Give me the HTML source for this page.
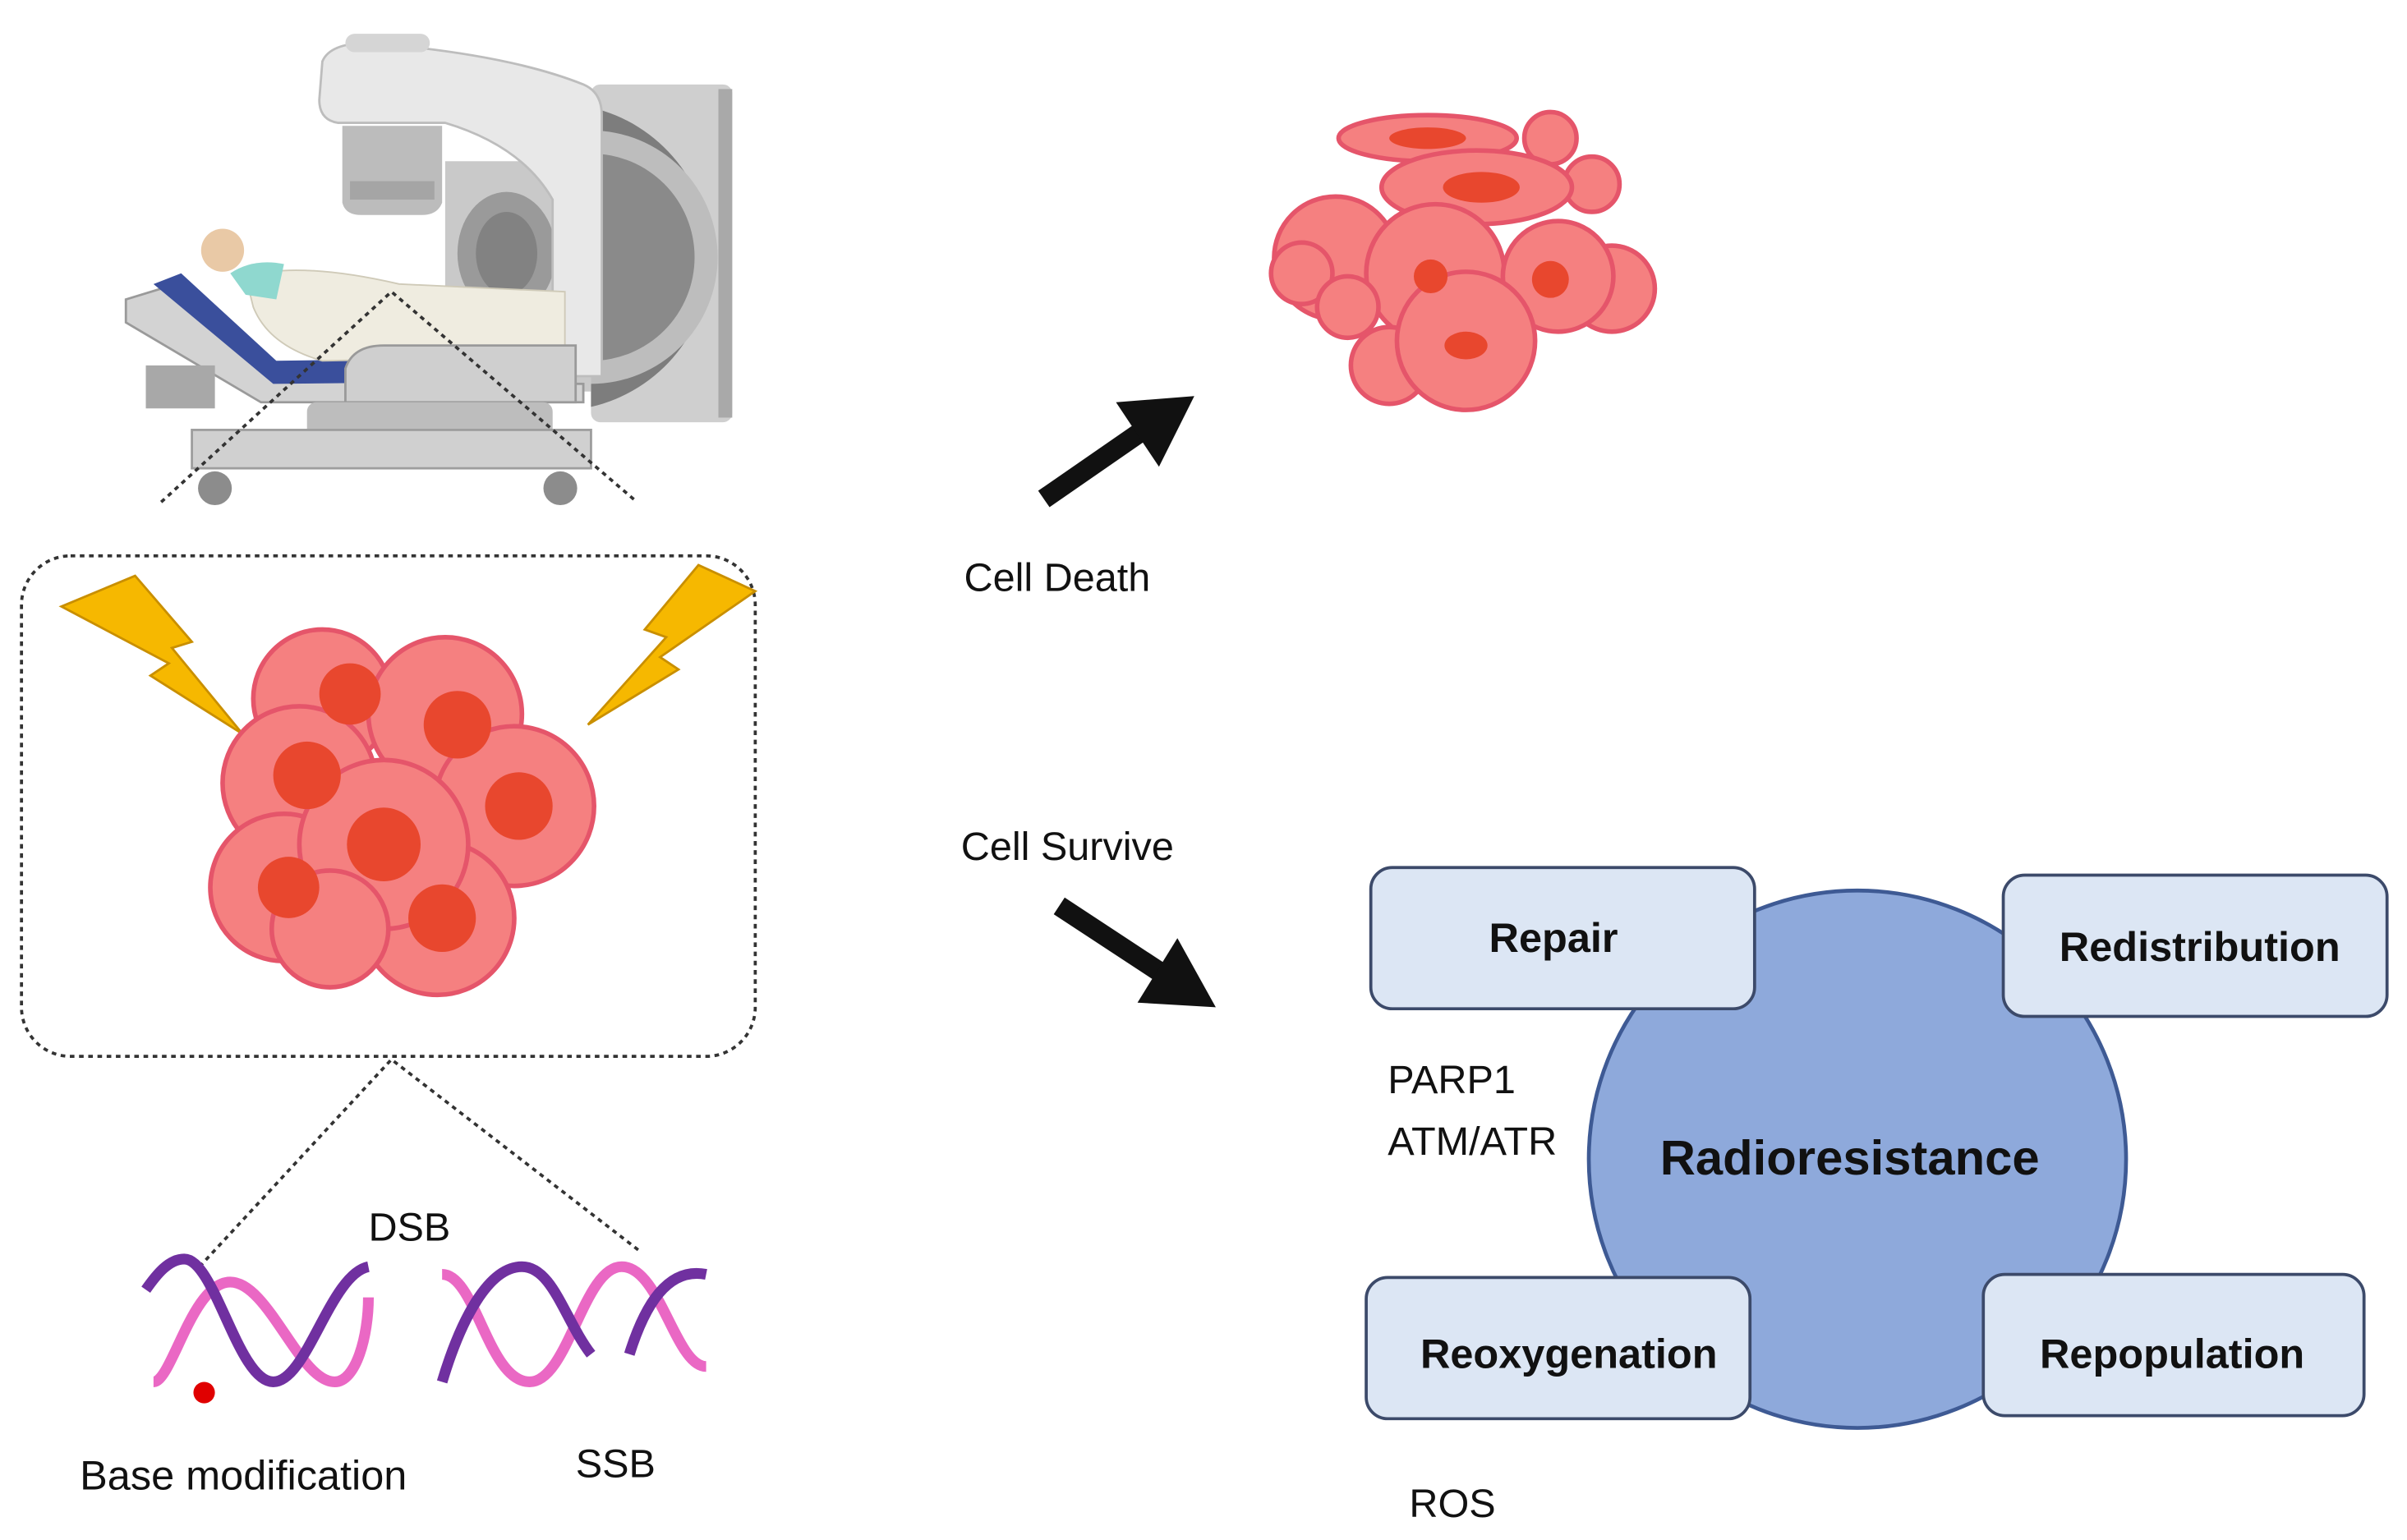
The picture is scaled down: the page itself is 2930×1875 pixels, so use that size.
<!DOCTYPE html>
<html><head><meta charset="utf-8"><style>
html,body{margin:0;padding:0;background:#fff;width:2930px;height:1875px;overflow:hidden}
svg{display:block}
text{font-family:"Liberation Sans",sans-serif;fill:#111}
</style></head><body>
<svg width="2930" height="1875" viewBox="0 0 1568 1003" preserveAspectRatio="none" xmlns="http://www.w3.org/2000/svg">
<rect width="1568" height="1003" fill="#fff"/>
<!-- machine -->
<rect x="385" y="55" width="92" height="220" rx="6" fill="#cfcfcf"/>
<rect x="468" y="58" width="9" height="214" fill="#a9a9a9"/>
<path d="M385,70 A100,100 0 0 1 385,265 Z" fill="#7d7d7d"/>
<path d="M385,85 A82,82 0 0 1 385,250 Z" fill="#bdbdbd"/>
<path d="M385,100 A65,65 0 0 1 385,235 Z" fill="#8a8a8a"/>
<rect x="290" y="105" width="95" height="150" fill="#c9c9c9"/>
<ellipse cx="330" cy="165" rx="32" ry="40" fill="#9a9a9a"/>
<ellipse cx="330" cy="165" rx="20" ry="27" fill="#828282"/>
<path d="M210,40 Q215,28 240,28 Q330,35 380,55 Q392,60 392,75 L392,245 L360,245 L360,130 Q340,95 290,80 L220,80 Q208,78 208,65 Z" fill="#e8e8e8" stroke="#bdbdbd" stroke-width="1.5"/>
<rect x="225" y="22" width="55" height="12" rx="6" fill="#d5d5d5"/>
<path d="M223,82 L288,82 L288,132 Q285,140 275,140 L235,140 Q225,140 223,132 Z" fill="#bcbcbc"/>
<rect x="228" y="118" width="55" height="12" fill="#a5a5a5"/>
<!-- bed -->
<path d="M82,195 L105,188 L180,248 L380,250 L380,262 L170,262 L82,210 Z" fill="#d3d3d3" stroke="#9a9a9a" stroke-width="1.5"/>
<path d="M100,185 L118,178 L180,235 L375,232 L375,248 L178,250 Z" fill="#3a4f9c"/>
<path d="M160,180 Q195,170 260,185 L368,190 L368,232 L210,235 Q175,225 165,200 Z" fill="#efece0" stroke="#cfcab8" stroke-width="1"/>
<path d="M150,178 Q165,168 185,172 L180,195 L160,192 Z" fill="#8fd8cf"/>
<circle cx="145" cy="163" r="14" fill="#e9c9a6"/>
<path d="M225,240 Q230,225 250,225 L375,225 L375,262 L225,262 Z" fill="#cfcfcf" stroke="#9a9a9a" stroke-width="1.5"/>
<rect x="200" y="262" width="160" height="30" rx="6" fill="#bdbdbd"/>
<rect x="125" y="280" width="260" height="25" fill="#d0d0d0" stroke="#9d9d9d" stroke-width="1.5"/>
<rect x="95" y="238" width="45" height="28" fill="#a8a8a8"/>
<circle cx="140" cy="318" r="11" fill="#8c8c8c"/>
<circle cx="365" cy="318" r="11" fill="#8c8c8c"/>
<!-- dotted lines -->
<g stroke="#333" stroke-width="2" stroke-dasharray="3,3" fill="none">
<path d="M105,327 L255,190 L415,327"/>
<rect x="14" y="362" width="478" height="326" rx="32"/>
<path d="M130,825 L255,690 L417,815"/>
</g>
<!-- bolts -->
<polygon points="40,395 88,375 125,418 112,422 158,478 98,440 110,432" fill="#F6B800" stroke="#c98f00" stroke-width="1.5"/>
<polygon points="492,385 455,368 420,410 434,415 383,472 442,436 430,428" fill="#F6B800" stroke="#c98f00" stroke-width="1.5"/>
<!-- big tumor -->
<g stroke="#e5556a" stroke-width="3" fill="#f58080">
<circle cx="210" cy="455" r="45"/><circle cx="290" cy="465" r="50"/>
<circle cx="195" cy="510" r="50"/><circle cx="335" cy="525" r="52"/>
<circle cx="185" cy="578" r="48"/><circle cx="285" cy="598" r="50"/>
<circle cx="250" cy="550" r="55"/><circle cx="215" cy="605" r="38"/>
</g>
<g fill="#e8472e">
<circle cx="228" cy="452" r="20"/><circle cx="298" cy="472" r="22"/><circle cx="200" cy="505" r="22"/>
<circle cx="338" cy="525" r="22"/><circle cx="250" cy="550" r="24"/><circle cx="188" cy="578" r="20"/><circle cx="288" cy="598" r="22"/>
</g>
<!-- DNA -->
<g fill="none" stroke-width="7" stroke-linecap="butt">
<path d="M100,900 C112,900 125,835 150,835 M150,835 C175,835 195,900 218,900 C232,900 240,870 240,845" stroke="#ea68c4"/>
<path d="M95,840 C102,830 110,820 120,820 C140,820 155,900 178,900 C200,900 215,830 240,825" stroke="#7030A0"/>
<path d="M288,830 C310,830 318,900 345,900 C370,900 380,825 405,825 C430,825 440,890 460,890" stroke="#ea68c4"/>
<path d="M288,900 C300,860 318,825 340,825 C360,825 368,860 385,882 M410,882 C420,850 435,825 460,830" stroke="#7030A0"/>
</g>
<circle cx="133" cy="907" r="7" fill="#e00000"/>
<text x="240" y="808" font-size="26">DSB</text>
<text x="52" y="970" font-size="27">Base modification</text>
<text x="375" y="962" font-size="26">SSB</text>
<!-- arrows -->
<line x1="680" y1="325" x2="745" y2="280" stroke="#111" stroke-width="13"/>
<polygon points="778,258 755,304 727,262" fill="#111"/>
<line x1="690" y1="590" x2="760" y2="636" stroke="#111" stroke-width="13"/>
<polygon points="792,656 741,653 767,611" fill="#111"/>
<text x="628" y="385" font-size="26">Cell Death</text>
<text x="626" y="560" font-size="26">Cell Survive</text>
<!-- top-right cells -->
<g stroke="#e5556a" stroke-width="3" fill="#f58080">
<ellipse cx="930" cy="90" rx="58" ry="15"/><circle cx="1010" cy="90" r="17"/><circle cx="1037" cy="120" r="18"/>
<circle cx="870" cy="168" r="40"/><circle cx="1050" cy="188" r="28"/><circle cx="848" cy="178" r="20"/>
<ellipse cx="962" cy="122" rx="62" ry="24"/>
<circle cx="935" cy="178" r="45"/><circle cx="1015" cy="180" r="36"/>
<circle cx="878" cy="200" r="20"/><circle cx="905" cy="238" r="25"/>
<circle cx="955" cy="222" r="45"/>
</g>
<g fill="#e8472e">
<ellipse cx="930" cy="90" rx="25" ry="7"/><ellipse cx="965" cy="122" rx="25" ry="10"/>
<circle cx="932" cy="180" r="11"/><circle cx="1010" cy="182" r="12"/><ellipse cx="955" cy="225" rx="14" ry="9"/>
</g>
<!-- radioresistance -->
<circle cx="1210" cy="755" r="175" fill="#8EA9DB" stroke="#3e5a94" stroke-width="2.5"/>
<g fill="#DCE6F4" stroke="#3c4a6a" stroke-width="2">
<rect x="893" y="565" width="250" height="92" rx="14"/>
<rect x="1305" y="570" width="250" height="92" rx="14"/>
<rect x="890" y="832" width="250" height="92" rx="14"/>
<rect x="1292" y="830" width="248" height="92" rx="14"/>
</g>
<g font-weight="bold" font-size="27" text-anchor="middle">
<text x="1012" y="620">Repair</text>
<text x="1433" y="626">Redistribution</text>
<text x="1022" y="891">Reoxygenation</text>
<text x="1415" y="891">Repopulation</text>
<text x="1205" y="765" font-size="32">Radioresistance</text>
</g>
<text x="904" y="712" font-size="26">PARP1</text>
<text x="904" y="752" font-size="26">ATM/ATR</text>
<text x="918" y="988" font-size="26">ROS</text>
</svg>
</body></html>
